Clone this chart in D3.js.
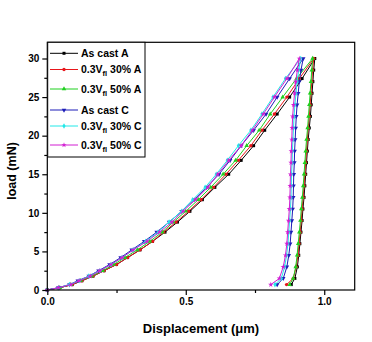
<!DOCTYPE html>
<html>
<head>
<meta charset="utf-8">
<style>
body { margin: 0; background: #fff; }
text { font-family: "Liberation Sans", Arial, sans-serif; font-weight: bold; }
</style>
</head>
<body>
<div id="chart"></div>
<script src="https://cdn.jsdelivr.net/npm/d3@7"></script>
<script>
// load levels (mN) for the loading and unloading branches
const loadUp = [0, 0.3, 0.7, 1.2, 1.8, 2.5, 3.3, 4.2, 5.2, 6.3, 7.5, 8.8, 10.2, 11.7, 13.3, 15, 16.8, 18.7, 20.7, 22.8, 25, 27.4, 30];
const loadDown = [30, 28.5, 27, 25.5, 24, 22.5, 21, 19.5, 18, 16.5, 15, 13.5, 12, 10.5, 9, 7.5, 6, 4.5, 3, 1.5, 0.7];

// displacement (um) on loading
const castA_up = [0, 0.045, 0.09, 0.125, 0.165, 0.205, 0.25, 0.29, 0.335, 0.38, 0.425, 0.47, 0.515, 0.56, 0.605, 0.655, 0.70, 0.745, 0.785, 0.83, 0.875, 0.92, 0.966];
const v30A_up  = [0, 0.045, 0.09, 0.125, 0.165, 0.205, 0.25, 0.29, 0.335, 0.38, 0.42, 0.465, 0.51, 0.555, 0.60, 0.645, 0.69, 0.735, 0.775, 0.82, 0.865, 0.91, 0.962];
const v50A_up  = [0, 0.045, 0.085, 0.12, 0.16, 0.20, 0.24, 0.28, 0.325, 0.37, 0.415, 0.455, 0.50, 0.545, 0.59, 0.635, 0.68, 0.72, 0.765, 0.805, 0.85, 0.90, 0.958];
const castC_up = [0, 0.04, 0.08, 0.11, 0.15, 0.185, 0.225, 0.265, 0.305, 0.35, 0.395, 0.44, 0.485, 0.53, 0.575, 0.62, 0.66, 0.70, 0.745, 0.79, 0.83, 0.875, 0.924];
const v30C_up  = [0, 0.04, 0.08, 0.115, 0.15, 0.19, 0.23, 0.27, 0.31, 0.355, 0.40, 0.44, 0.485, 0.525, 0.57, 0.61, 0.65, 0.69, 0.735, 0.775, 0.815, 0.86, 0.915];
const v50C_up  = [0, 0.04, 0.085, 0.115, 0.155, 0.19, 0.23, 0.27, 0.31, 0.36, 0.405, 0.45, 0.49, 0.535, 0.58, 0.615, 0.655, 0.70, 0.74, 0.78, 0.82, 0.865, 0.91];

// displacement (um) on unloading
const castA_dn = [0.966, 0.962, 0.959, 0.956, 0.953, 0.95, 0.946, 0.942, 0.939, 0.936, 0.933, 0.93, 0.927, 0.923, 0.92, 0.916, 0.912, 0.908, 0.903, 0.894, 0.881];
const v30A_dn  = [0.962, 0.958, 0.955, 0.952, 0.949, 0.946, 0.942, 0.939, 0.936, 0.933, 0.93, 0.927, 0.924, 0.92, 0.917, 0.913, 0.909, 0.905, 0.899, 0.888, 0.864];
const v50A_dn  = [0.958, 0.955, 0.952, 0.949, 0.946, 0.943, 0.94, 0.936, 0.933, 0.93, 0.927, 0.924, 0.921, 0.917, 0.914, 0.91, 0.906, 0.902, 0.897, 0.888, 0.875];
const castC_dn = [0.924, 0.916, 0.91, 0.906, 0.902, 0.899, 0.897, 0.895, 0.893, 0.892, 0.89, 0.889, 0.888, 0.886, 0.883, 0.88, 0.877, 0.872, 0.865, 0.852, 0.83];
const v30C_dn  = [0.916, 0.908, 0.902, 0.898, 0.894, 0.891, 0.889, 0.887, 0.885, 0.884, 0.882, 0.881, 0.88, 0.878, 0.875, 0.872, 0.869, 0.864, 0.857, 0.845, 0.822];
const v50C_dn  = [0.912, 0.903, 0.897, 0.893, 0.889, 0.886, 0.884, 0.883, 0.881, 0.88, 0.878, 0.877, 0.876, 0.874, 0.871, 0.868, 0.865, 0.86, 0.852, 0.838, 0.807];

const names = ["As cast A", "0.3Vfl 30% A", "0.3Vfl 50% A", "As cast C", "0.3Vfl 30% C", "0.3Vfl 50% C"];
const colors = ["#000000", "#e8161b", "#1fd01f", "#1d1db8", "#22e8e8", "#d21ed2"];
const upData = [castA_up, v30A_up, v50A_up, castC_up, v30C_up, v50C_up];
const dnData = [castA_dn, v30A_dn, v50A_dn, castC_dn, v30C_dn, v50C_dn];

const xTicks = [0, 0.5, 1.0];
const yTicks = [0, 5, 10, 15, 20, 25, 30];

const width = 372, height = 342;
const svg = d3.select("#chart").append("svg").attr("width", width).attr("height", height);

const x = d3.scaleLinear().domain([0, 1.11]).range([47.3, 354.7]);
const y = d3.scaleLinear().domain([0, 32.1]).range([290, 42.3]);

const symbols = [d3.symbolSquare, d3.symbolCircle, d3.symbolTriangle, d3.symbolTriangle, d3.symbolDiamond, d3.symbolStar];
const line = d3.line().x(d => x(d[0])).y(d => y(d[1]));

const series = names.map((n, i) => {
  const pts = upData[i].map((v, j) => [v, loadUp[j]])
    .concat(dnData[i].slice(1).map((v, j) => [v, loadDown[j + 1]]));
  return { name: n, color: colors[i], sym: symbols[i], rot: i === 3 ? 180 : 0, pts };
});

const g = svg.append("g");
series.forEach(s => {
  g.append("path").attr("d", line(s.pts)).attr("fill", "none")
    .attr("stroke", s.color).attr("stroke-width", 1);
  g.selectAll(null).data(s.pts).join("path")
    .attr("d", d3.symbol().type(s.sym).size(9))
    .attr("transform", d => `translate(${x(d[0])},${y(d[1])}) rotate(${s.rot})`)
    .attr("fill", s.color);
});

// frame
svg.append("rect").attr("x", 47.3).attr("y", 42.3).attr("width", 354.7 - 47.3).attr("height", 290 - 42.3)
  .attr("fill", "none").attr("stroke", "#000").attr("stroke-width", 1.2);

// axes
const xAxis = d3.axisBottom(x).tickValues(xTicks).tickFormat(d3.format(".1f")).tickSize(5).tickSizeOuter(0);
const xMinor = d3.axisBottom(x).tickValues([0.25, 0.75]).tickFormat("").tickSize(3).tickSizeOuter(0);
const yAxis = d3.axisLeft(y).tickValues(yTicks).tickFormat(d3.format("d")).tickSize(5).tickSizeOuter(0);
const yMinor = d3.axisLeft(y).tickValues([2.5, 7.5, 12.5, 17.5, 22.5, 27.5]).tickFormat("").tickSize(3).tickSizeOuter(0);

[svg.append("g").attr("transform", "translate(0,290)").call(xAxis),
 svg.append("g").attr("transform", "translate(0,290)").call(xMinor),
 svg.append("g").attr("transform", "translate(47.3,0)").call(yAxis),
 svg.append("g").attr("transform", "translate(47.3,0)").call(yMinor)].forEach(a => {
  a.select(".domain").remove();
  a.selectAll("line").attr("stroke", "#000").attr("stroke-width", 1.2);
  a.selectAll("text").attr("font-size", 10).attr("fill", "#000")
    .style("font-family", '"Liberation Sans", Arial, sans-serif').style("font-weight", "bold");
});

svg.append("text").attr("x", 201).attr("y", 333).attr("text-anchor", "middle")
  .attr("font-size", 13).text("Displacement (\u03bcm)");
svg.append("text").attr("transform", "translate(16,171) rotate(-90)").attr("text-anchor", "middle")
  .attr("font-size", 12.5).text("load (mN)");

// legend
const rowY = [53.3, 69.5, 89, 110, 126, 145];
const leg = svg.append("g");
leg.append("rect").attr("x", 47.7).attr("y", 42.3).attr("width", 97.3).attr("height", 114.7)
  .attr("fill", "#fff").attr("stroke", "#000").attr("stroke-width", 1);
series.forEach((s, i) => {
  const ry = rowY[i];
  leg.append("line").attr("x1", 50).attr("x2", 78).attr("y1", ry).attr("y2", ry)
    .attr("stroke", s.color).attr("stroke-width", 1);
  leg.append("path").attr("d", d3.symbol().type(s.sym).size(9)())
    .attr("transform", `translate(64,${ry}) rotate(${s.rot})`).attr("fill", s.color);
  const t = leg.append("text").attr("x", 81).attr("y", ry + 3.8).attr("font-size", 10.5);
  if (s.name.startsWith("0.3Vfl")) {
    t.append("tspan").text("0.3V");
    t.append("tspan").attr("font-size", 7.5).attr("dy", 3).text("fl");
    t.append("tspan").attr("dy", -3).text(s.name.slice(6));
  } else {
    t.text(s.name);
  }
});
</script>
</body>
</html>
